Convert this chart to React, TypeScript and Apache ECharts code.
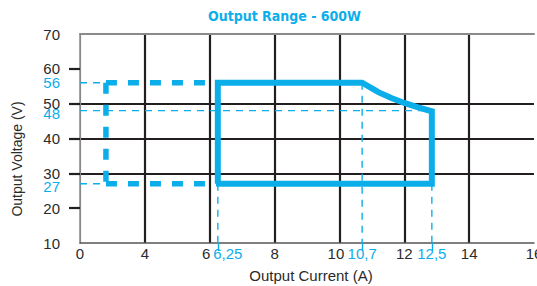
import React, { useEffect, useRef } from "react";
import * as echarts from "echarts";

const title = "Output Range - 600W";
const xName = "Output Current (A)";
const yName = "Output Voltage (V)";

// x-axis tick labels (equally spaced on the chart)
const currentTicks = [0, 4, 6, 8, 10, 12, 14, 16];
// y-axis range
const voltageMin = 10;
const voltageMax = 70;
const voltageStep = 10;
const voltageGridValues = [20, 30, 40, 50, 60];

// highlighted values (position on the drawn scale) and their printed labels
const markCurrents = [6.25, 10.7, 12.85];
const markCurrentLabels = ["6,25", "10,7", "12,5"];
const markVoltages = [56, 48, 27];

// operating area (solid)
const operatingArea: [number, number][] = [
  [6.25, 27],
  [6.25, 56],
  [10.7, 56],
  [11.2, 53.3],
  [11.6, 51.6],
  [12, 50.2],
  [12.4, 49],
  [12.85, 47.8],
  [12.85, 27],
  [6.25, 27],
];
// extended area (dashed)
const extendedTop: [number, number][] = [[1.6, 56], [6.25, 56]];
const extendedLeft: [number, number][] = [[1.6, 56], [1.6, 27]];
const extendedBottom: [number, number][] = [[1.6, 27], [6.25, 27]];

// thin guide lines
const guides: [number, number][][] = [
  [[0, 56], [1.6, 56]],
  [[0, 27], [1.6, 27]],
  [[0, 48], [12.85, 48]],
  [[6.25, 27], [6.25, 10]],
  [[10.7, 56], [10.7, 10]],
  [[12.85, 27], [12.85, 10]],
];

const BLUE = "#0caeea";
const BLACK = "#231f20";
const TEXT = "#2b2b2b";
const FONT = "'Liberation Sans', Arial, sans-serif";
const TITLE_FONT = "'DejaVu Sans Condensed', 'Liberation Sans', sans-serif";

// piecewise mapping from current (A) to the equally spaced axis position
function pos(i: number): number {
  for (let k = 0; k < currentTicks.length - 1; k++) {
    const a = currentTicks[k];
    const b = currentTicks[k + 1];
    if (i <= b) return k + (i - a) / (b - a);
  }
  return currentTicks.length - 1;
}
const mapPts = (pts: [number, number][]) => pts.map(([i, v]) => [pos(i), v]);

export default function App() {
  const ref = useRef<HTMLDivElement>(null);
  useEffect(() => {
    document.body.style.margin = "0";
    const chart = echarts.init(ref.current!, null, { renderer: "svg" });
    const xMax = currentTicks.length - 1;
    const thick = (data: [number, number][], dashed: boolean) => ({
      type: "line",
      data: mapPts(data),
      symbol: "none",
      silent: true,
      z: 5,
      lineStyle: {
        color: BLUE,
        width: dashed ? 5.5 : 6,
        type: dashed ? [11, 11] : "solid",
        cap: "butt",
        join: "miter",
      },
    });
    const series: any[] = [];
    guides.forEach((g) =>
      series.push({
        type: "line",
        data: mapPts(g),
        symbol: "none",
        silent: true,
        z: 3,
        lineStyle: { color: BLUE, width: 1.4, type: [7, 6] },
      })
    );
    series.push(thick(operatingArea, false));
    series.push(thick(extendedTop, true));
    series.push(thick(extendedLeft, true));
    series.push(thick(extendedBottom, true));

    const markPos = markCurrents.map(pos);

    chart.setOption({
      animation: false,
      title: {
        text: title,
        left: 203,
        top: 4,
        textStyle: { color: BLUE, fontFamily: TITLE_FONT, fontWeight: "bold", fontSize: 14 },
      },
      grid: { left: 80, right: 3, top: 34, bottom: 43, outerBoundsMode: "none", containLabel: false },
      xAxis: [
        {
          type: "value",
          min: 0,
          max: xMax,
          interval: 1,
          name: xName,
          nameLocation: "middle",
          nameGap: 25,
          nameTextStyle: { color: TEXT, fontFamily: FONT, fontSize: 15, padding: [0, 0, 0, 8] },
          axisLine: { show: true, lineStyle: { color: "#555", width: 1.5 } },
          axisTick: { show: false },
          axisLabel: {
            margin: 3,
            color: TEXT,
            fontFamily: FONT,
            fontSize: 15,
            formatter: (v: number) => {
              const t = String(currentTicks[Math.round(v)]);
              return t === "6" || t === "10" ? "{s|" + t + "}" : t;
            },
            rich: { s: { color: TEXT, fontFamily: FONT, fontSize: 15, padding: [0, 7, 0, 0] } },
          },
          splitLine: {
            show: true,
            showMinLine: false,
            showMaxLine: false,
            lineStyle: { color: BLACK, width: 2.2 },
          },
        },
        {
          type: "value",
          min: 0,
          max: xMax,
          position: "bottom",
          axisLine: { show: false },
          splitLine: { show: false },
          axisTick: {
            show: true,
            customValues: markPos,
            length: 8,
            lineStyle: { color: BLUE, width: 1.4 },
          },
          axisLabel: {
            margin: 3,
            customValues: markPos,
            color: BLUE,
            fontFamily: FONT,
            fontSize: 15,
            formatter: (v: number) => {
              let idx = 0;
              markPos.forEach((p, k) => {
                if (Math.abs(p - v) < 1e-6) idx = k;
              });
              return idx === 0 ? "{p|" + markCurrentLabels[idx] + "}" : markCurrentLabels[idx];
            },
            rich: { p: { color: BLUE, fontFamily: FONT, fontSize: 15, padding: [0, 0, 0, 20] } },
          },
        },
        {
          type: "value",
          min: 0,
          max: xMax,
          position: "top",
          axisLine: { show: true, lineStyle: { color: "#8a8a8a", width: 2 } },
          axisTick: { show: false },
          axisLabel: { show: false },
          splitLine: { show: false },
        },
      ],
      yAxis: [
        {
          type: "value",
          min: voltageMin,
          max: voltageMax,
          interval: voltageStep,
          name: yName,
          nameLocation: "middle",
          nameGap: 56,
          nameTextStyle: { color: TEXT, fontFamily: FONT, fontSize: 14, padding: [0, 41, 0, 0] },
          axisLine: { show: true, lineStyle: { color: "#888", width: 1.2 } },
          axisTick: {
            show: true,
            customValues: voltageGridValues,
            length: 11,
            lineStyle: { color: BLACK, width: 2.2 },
          },
          axisLabel: { margin: 20, color: TEXT, fontFamily: FONT, fontSize: 15, lineHeight: 12 },
          splitLine: {
            show: true,
            showMinLine: false,
            showMaxLine: false,
            lineStyle: { color: BLACK, width: 2.2 },
          },
        },
        {
          type: "value",
          min: voltageMin,
          max: voltageMax,
          position: "left",
          axisLine: { show: false },
          axisTick: { show: false },
          splitLine: { show: false },
          axisLabel: {
            margin: 20,
            customValues: markVoltages,
            color: BLUE,
            fontFamily: FONT,
            fontSize: 15,
            lineHeight: 12,
            formatter: (v: number) => (v === 56 ? String(v) : "{d|" + v + "}"),
            rich: {
              d: { color: BLUE, fontFamily: FONT, fontSize: 15, lineHeight: 12, padding: [6, 0, 0, 0] },
            },
          },
        },
        {
          type: "value",
          min: voltageMin,
          max: voltageMax,
          position: "right",
          axisLine: { show: true, lineStyle: { color: "#8a8a8a", width: 1.5 } },
          axisTick: { show: false },
          axisLabel: { show: false },
          splitLine: { show: false },
        },
      ],
      series,
    });
    return () => chart.dispose();
  }, []);
  return <div ref={ref} style={{ width: 537, height: 286 }} />;
}
